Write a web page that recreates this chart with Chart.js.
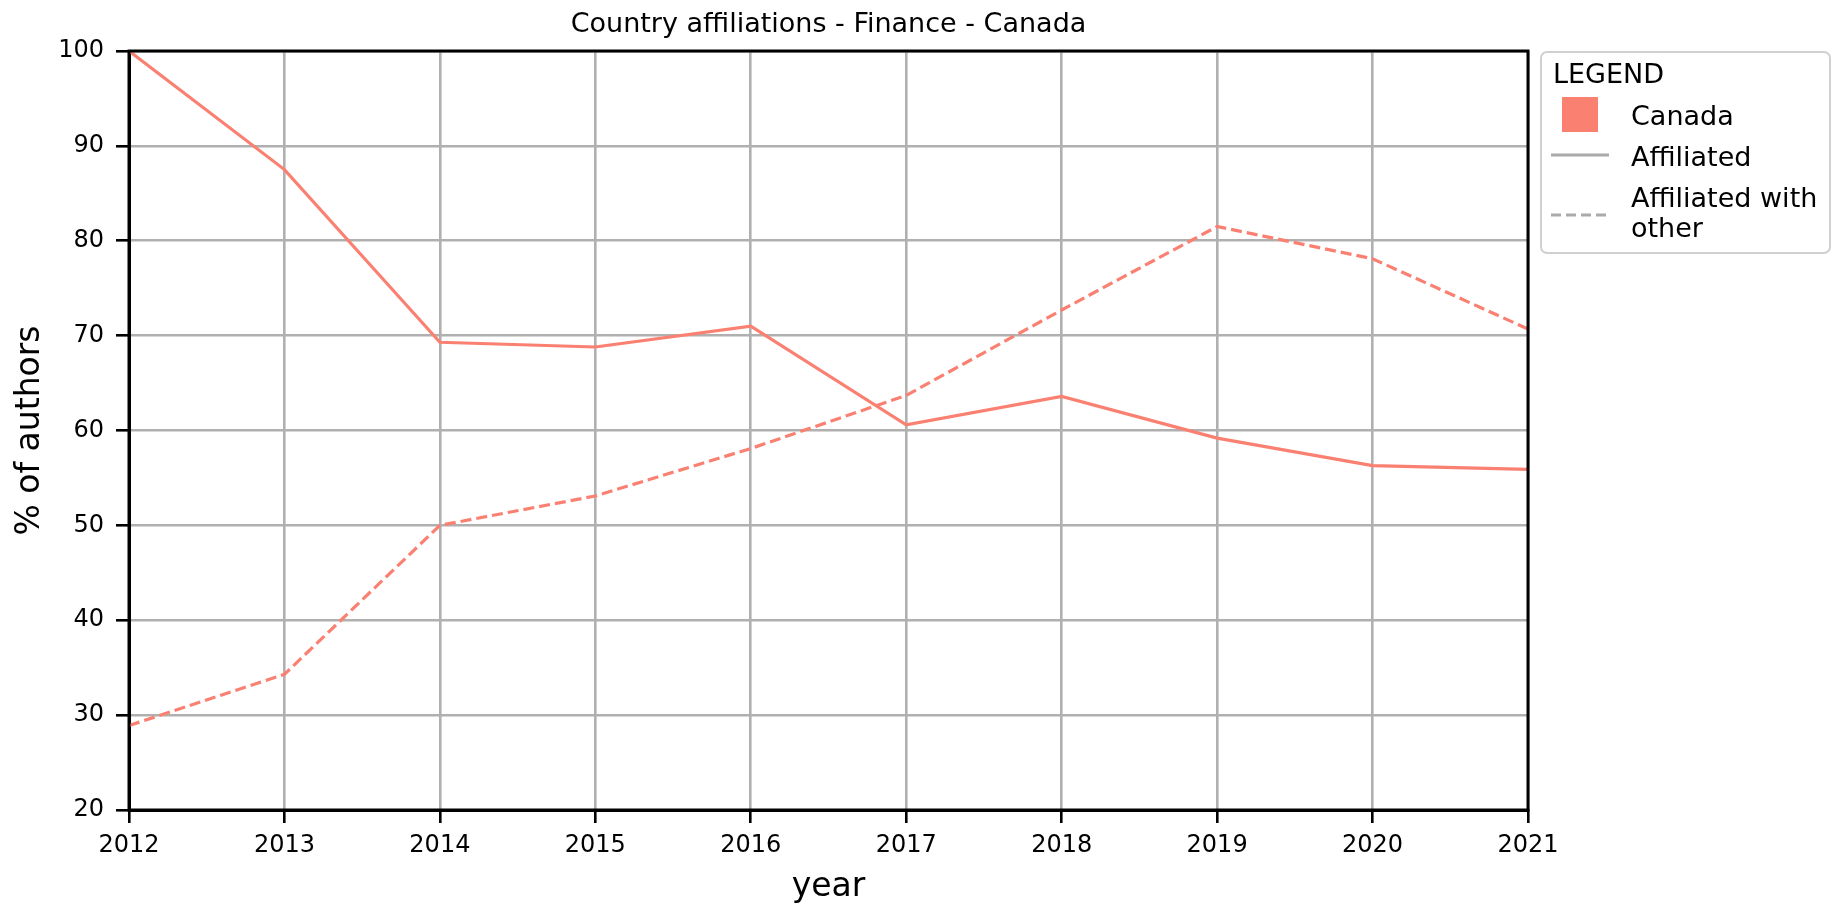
<!DOCTYPE html>
<html>
<head>
<meta charset="utf-8">
<script src="https://cdn.jsdelivr.net/npm/chart.js@4/dist/chart.umd.min.js"></script>
<style>
  html, body { margin: 0; padding: 0; background: #fff; }
  #wrap { width: 1832px; height: 904px; position: relative; }
</style>
</head>
<body>
<div id="wrap"><canvas id="c" width="1832" height="904"></canvas></div>
<script>
// ---- data ----
const years = ['2012','2013','2014','2015','2016','2017','2018','2019','2020','2021'];
const affiliated = [100, 87.5, 69.3, 68.8, 71.0, 60.6, 63.6, 59.2, 56.3, 55.9];
const affiliatedWithOther = [28.9, 34.3, 50.0, 53.1, 58.1, 63.7, 72.7, 81.5, 78.1, 70.7];
const yTicks = [20, 30, 40, 50, 60, 70, 80, 90, 100];
const chartTitle = 'Country affiliations - Finance - Canada';
const xTitle = 'year';
const yTitle = '% of authors';
const legendTitle = 'LEGEND';
const legendItems = ['Canada', 'Affiliated', ['Affiliated with', 'other']];

const SALMON = '#FA8072';
const FONT = "'DejaVu Sans', sans-serif";

const framePlugin = {
  id: 'frame',
  afterDraw(chart) {
    const {ctx, chartArea: a} = chart;
    ctx.save();
    // spines
    ctx.strokeStyle = '#000';
    ctx.lineWidth = 3;
    ctx.strokeRect(a.left, a.top, a.right - a.left, a.bottom - a.top);
    // title
    ctx.fillStyle = '#000';
    ctx.font = '27px ' + FONT;
    ctx.textAlign = 'center';
    ctx.textBaseline = 'middle';
    ctx.fillText(chartTitle, (a.left + a.right) / 2, 25);
    // legend box
    const bx = 1541, by = 52, bw = 289, bh = 201;
    ctx.beginPath();
    ctx.roundRect(bx, by, bw, bh, 6);
    ctx.fillStyle = 'rgba(255,255,255,0.8)';
    ctx.fill();
    ctx.strokeStyle = '#d0d0d0';
    ctx.lineWidth = 2;
    ctx.stroke();
    ctx.fillStyle = '#000';
    ctx.textAlign = 'left';
    ctx.font = '27px ' + FONT;
    ctx.fillText(legendTitle, 1553, 76);
    // patch
    ctx.fillStyle = SALMON;
    ctx.fillRect(1562, 97, 36, 35);
    ctx.fillStyle = '#000';
    ctx.fillText(legendItems[0], 1631, 118);
    // solid line
    ctx.strokeStyle = '#aaaaaa';
    ctx.lineWidth = 3;
    ctx.beginPath();
    ctx.moveTo(1551, 155); ctx.lineTo(1609, 155);
    ctx.stroke();
    ctx.fillText(legendItems[1], 1631, 159);
    // dashed line
    ctx.setLineDash([10, 5]);
    ctx.beginPath();
    ctx.moveTo(1551, 215); ctx.lineTo(1609, 215);
    ctx.stroke();
    ctx.setLineDash([]);
    ctx.fillText(legendItems[2][0], 1631, 200);
    ctx.fillText(legendItems[2][1], 1631, 230);
    ctx.restore();
  }
};

new Chart(document.getElementById('c'), {
  type: 'line',
  data: {
    labels: years,
    datasets: [
      {
        label: 'Affiliated',
        data: affiliated,
        borderColor: SALMON,
        borderWidth: 3.2,
        pointRadius: 0,
        tension: 0,
        fill: false
      },
      {
        label: 'Affiliated with other',
        data: affiliatedWithOther,
        borderColor: SALMON,
        borderWidth: 3.2,
        borderDash: [11, 5],
        pointRadius: 0,
        tension: 0,
        fill: false
      }
    ]
  },
  options: {
    responsive: false,
    devicePixelRatio: 1,
    animation: false,
    layout: { padding: { top: 51, right: 304, left: 0, bottom: 0 } },
    plugins: {
      legend: { display: false },
      title: { display: false },
      tooltip: { enabled: false }
    },
    scales: {
      x: {
        type: 'category',
        offset: false,
        grid: { color: '#b0b0b0', lineWidth: 2.6, tickColor: '#000', tickLength: 13, tickWidth: 2.6, drawTicks: true },
        border: { color: '#000', width: 3 },
        ticks: { color: '#000', font: { family: FONT, size: 24 }, padding: 8, maxRotation: 0, autoSkip: false },
        title: { display: true, text: xTitle, color: '#000', font: { family: FONT, size: 33 }, padding: { top: 0, bottom: -3 } },
        afterFit(s) { s.height = 94; }
      },
      y: {
        min: 20,
        max: 100,
        afterBuildTicks(s) { s.ticks = yTicks.map(v => ({ value: v })); },
        grid: { color: '#b0b0b0', lineWidth: 2.6, tickColor: '#000', tickLength: 13, tickWidth: 2.6, drawTicks: true },
        border: { color: '#000', width: 3 },
        ticks: { color: '#000', font: { family: FONT, size: 24 }, padding: 12 },
        title: { display: true, text: yTitle, color: '#000', font: { family: FONT, size: 33 }, padding: { top: 11, bottom: 0 } },
        afterFit(s) { s.width = 129; }
      }
    }
  },
  plugins: [framePlugin]
});
</script>
</body>
</html>
